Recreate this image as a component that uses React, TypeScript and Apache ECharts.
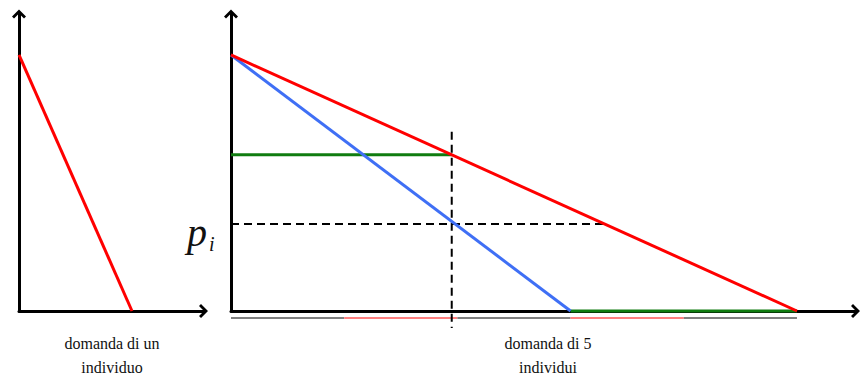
import React, { useEffect, useRef } from 'react';
import * as echarts from 'echarts';

// Individual demand (left panel)
const individualDemand: number[][] = [[0, 10], [10, 0]];
// Market demand of 5 individuals (right panel)
const marketDemand: number[][] = [[0, 10], [50, 0]];
// Demand of 3 individuals (blue)
const partialDemand: number[][] = [[0, 10], [30, 0]];
// Green segments
const greenUpper: number[][] = [[0, 6.1], [19.5, 6.1]];
const greenLower: number[][] = [[30, 0], [50, 0]];
// Dashed guides
const dashedVertical: number[][] = [[19.5, 7], [19.5, -0.66]];
const dashedPrice: number[][] = [[0, 3.4], [33, 3.4]];
// Thin segments under the axis: one per individual
const segmentEdges: number[] = [0, 10, 20, 30, 40, 50];
const segmentLevel = -0.27;

const leftLabel = ['domanda di un', 'individuo'];
const rightLabel = ['domanda di 5', 'individui'];

const CHEVRON = 'path://M7 0 L14 7 L12 9 L7 4 L2 9 L0 7 Z';
const SERIF = 'Liberation Serif';

function axisCommon(min: number, max: number, gridIndex: number) {
  return {
    type: 'value' as const,
    gridIndex,
    min,
    max,
    splitLine: { show: false },
    axisTick: { show: false },
    axisLabel: { show: false },
    axisLine: {
      show: true,
      onZero: false,
      symbol: ['none', CHEVRON],
      symbolSize: [14, 9],
      lineStyle: { color: '#000', width: 3 },
    },
  };
}

function lineSeries(data: number[][], color: string, width: number, gi: number, extra: any = {}) {
  return {
    type: 'line',
    xAxisIndex: gi,
    yAxisIndex: gi,
    data,
    symbol: 'none',
    clip: false,
    silent: true,
    lineStyle: { color, width, ...extra },
    z: 5,
  };
}

function label(text: string, x: number, y: number, size: number, italic = false, align = 'center') {
  return {
    type: 'text',
    x,
    y,
    style: {
      text,
      fontFamily: SERIF,
      fontSize: size,
      fontStyle: italic ? 'italic' : 'normal',
      fill: '#111',
      align,
      verticalAlign: 'middle',
    },
  };
}

export default function App() {
  const ref = useRef<HTMLDivElement>(null);
  useEffect(() => {
    if (!ref.current) return;
    const chart = echarts.init(ref.current, undefined, { renderer: 'svg' });

    const segSeries = segmentEdges.slice(0, -1).map((e, i) =>
      lineSeries(
        [[e, segmentLevel], [segmentEdges[i + 1], segmentLevel]],
        i % 2 === 0 ? '#808080' : '#ff8080',
        2,
        1
      )
    );

    chart.setOption({
      animation: false,
      backgroundColor: '#fff',
      grid: [
        { left: 19, top: 14, width: 184.5, height: 297 },
        { left: 231, top: 14, width: 624.5, height: 297 },
      ],
      xAxis: [axisCommon(0, 16.33, 0), axisCommon(0, 55.17, 1)],
      yAxis: [axisCommon(0, 11.6, 0), axisCommon(0, 11.6, 1)],
      series: [
        lineSeries(individualDemand, '#ff0000', 3, 0),
        ...segSeries,
        lineSeries(dashedVertical, '#000', 2, 1, { type: [8, 5] }),
        lineSeries(dashedPrice, '#000', 2, 1, { type: [8, 5] }),
        lineSeries(greenUpper, '#107c10', 3, 1),
        lineSeries(greenLower, '#107c10', 3, 1),
        lineSeries(partialDemand, '#3f6ff5', 3, 1),
        lineSeries(marketDemand, '#ff0000', 3, 1),
      ],
      graphic: [
        label(leftLabel[0], 112, 343, 16),
        label(leftLabel[1], 112, 367, 16),
        label(rightLabel[0], 548, 343, 16),
        label(rightLabel[1], 548, 367, 16),
        label('p', 187, 232, 40, true, 'left'),
        label('i', 209, 244, 20, true, 'left'),
      ],
    });
    return () => chart.dispose();
  }, []);
  return (
    <div
      ref={ref}
      style={{ position: 'fixed', left: 0, top: 0, width: 861, height: 376, background: '#fff' }}
    />
  );
}
